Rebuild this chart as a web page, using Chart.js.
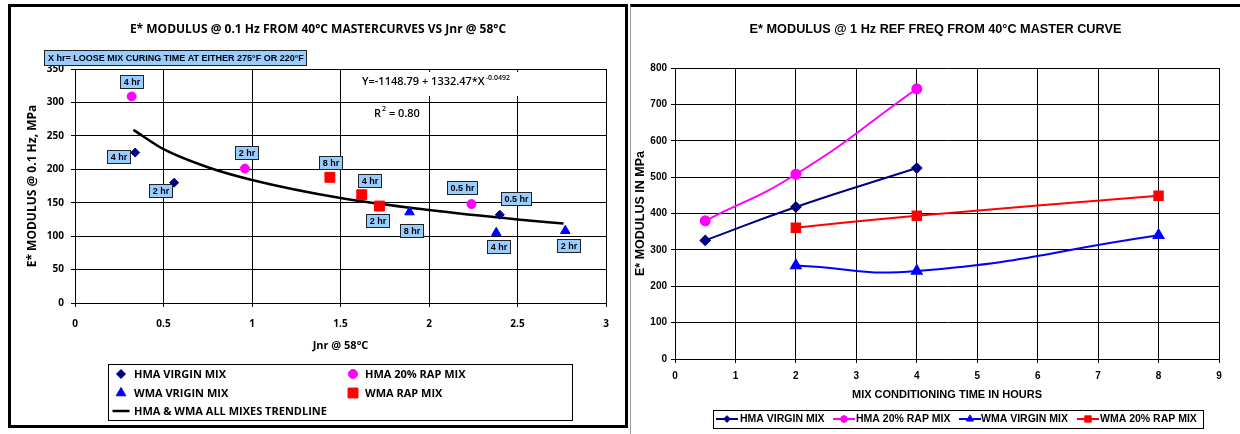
<!DOCTYPE html>
<html>
<head>
<meta charset="utf-8">
<script src="https://cdn.jsdelivr.net/npm/chart.js@4"></script>
<style>
body { margin: 0; width: 1240px; height: 434px; background: #fff; position: relative; overflow: hidden; }
#leftBox { position: absolute; left: 8px; top: 4px; width: 620px; height: 424px; border: 3px solid #000; box-sizing: border-box; }
#rightBox { position: absolute; left: 630px; top: 4px; width: 610px; height: 430px; border-top: 3px solid #000; border-left: 1px solid #999; box-sizing: border-box; }
canvas { display: block; }
</style>
</head>
<body>
<div id="leftBox"><canvas id="leftChart" width="614" height="418"></canvas></div>
<div id="rightBox"><canvas id="rightChart" width="609" height="427"></canvas></div>
<script>
// ---- left chart data: E* @ 0.1 Hz vs Jnr @ 58C
const hmaVirginJnr = [0.34, 0.56, 2.40];
const hmaVirginE = [225, 180, 132];
const hmaVirginHrs = ['4 hr', '2 hr', '0.5 hr'];
const hmaRapJnr = [0.32, 0.96, 2.24];
const hmaRapE = [309, 201, 148];
const hmaRapHrs = ['4 hr', '2 hr', '0.5 hr'];
const wmaVirginJnr = [1.89, 2.38, 2.77];
const wmaVirginE = [136, 105, 108];
const wmaVirginHrs = ['8 hr', '4 hr', '2 hr'];
const wmaRapJnr = [1.44, 1.62, 1.72];
const wmaRapE = [188, 162, 145];
const wmaRapHrs = ['8 hr', '4 hr', '2 hr'];
const trendJnr = [0.33, 0.5, 0.75, 1, 1.5, 2, 2.5, 2.76];
const trendE = [259, 230, 203, 184, 157, 139, 125, 119];
const jnrTicks = [0, 0.5, 1, 1.5, 2, 2.5, 3];
const modulusTicks = [0, 50, 100, 150, 200, 250, 300, 350];

// ---- right chart data: E* @ 1 Hz vs conditioning time
const hmaVirginHours = [0.5, 2, 4];
const hmaVirginMod = [326, 418, 525];
const hmaRapHours = [0.5, 2, 4];
const hmaRapMod = [380, 508, 743];
const wmaVirginHours = [2, 4, 8];
const wmaVirginMod = [257, 242, 340];
const wmaRapHours = [2, 4, 8];
const wmaRapMod = [361, 394, 449];
const hourTicks = [0, 1, 2, 3, 4, 5, 6, 7, 8, 9];
const mpaTicks = [0, 100, 200, 300, 400, 500, 600, 700, 800];

const pts = (xs, ys) => xs.map((x, i) => ({ x: x, y: ys[i] }));

const openSans = "'Open Sans', sans-serif";
const arial = "'Liberation Sans', Arial, sans-serif";

// label box offsets from their point (layout only)
const hrLabelSets = [hmaVirginHrs, hmaRapHrs, wmaVirginHrs, wmaRapHrs];
const labelNudges = [
    [[-17, 4], [-14, 8], [16, -16]],
    [[0, -15], [1, -16], [-9, -17]],
    [[2, 18], [2, 14], [3, 15]],
    [[0, -15], [8, -14], [-2, 14]]
];

function blueBox(ctx, x, y, w, h) {
    x = Math.round(x) + 0.5; y = Math.round(y) + 0.5;
    ctx.fillStyle = '#99CCFF';
    ctx.fillRect(x, y, Math.round(w), h);
    ctx.strokeStyle = '#222';
    ctx.lineWidth = 1;
    ctx.strokeRect(x, y, Math.round(w), h);
}

function drawBoxLegend(chart, box, slots, cfg) {
    const ctx = chart.ctx;
    ctx.save();
    ctx.strokeStyle = '#000';
    ctx.lineWidth = 1;
    ctx.strokeRect(box[0] + 0.5, box[1] + 0.5, box[2], box[3]);
    ctx.font = cfg.font;
    ctx.textBaseline = 'middle';
    ctx.textAlign = 'left';
    chart.data.datasets.forEach((ds, i) => {
        const [mx, tx, y] = slots[i];
        if (ds.showLine) {
            ctx.strokeStyle = ds.borderColor;
            ctx.lineWidth = cfg.lineWidth;
            ctx.beginPath();
            ctx.moveTo(mx - cfg.lineLen / 2, y);
            ctx.lineTo(mx + cfg.lineLen / 2, y);
            ctx.stroke();
        }
        if (ds.pointRadius > 0) {
            ctx.fillStyle = ds.backgroundColor;
            ctx.strokeStyle = ds.backgroundColor;
            ctx.lineWidth = 1;
            Chart.helpers.drawPoint(ctx, {
                pointStyle: ds.pointStyle,
                radius: cfg.markerScale * ds.pointRadius,
                rotation: 0,
                borderWidth: 1
            }, mx, y);
        }
        ctx.fillStyle = '#000';
        ctx.fillText(ds.label, tx, y + 0.5);
    });
    ctx.restore();
}

const leftNotes = {
    id: 'leftNotes',
    afterDatasetsDraw(chart) {
        const ctx = chart.ctx;
        ctx.save();
        ctx.font = 'bold 9px ' + arial;
        ctx.textAlign = 'center';
        ctx.textBaseline = 'middle';
        hrLabelSets.forEach((labels, di) => {
            const meta = chart.getDatasetMeta(di);
            labels.forEach((txt, j) => {
                const pt = meta.data[j];
                const [dx, dy] = labelNudges[di][j];
                const w = ctx.measureText(txt).width + 6;
                const h = 13;
                const left = Math.round(pt.x + dx - w / 2);
                const top = Math.round(pt.y + dy - h / 2);
                blueBox(ctx, left, top, w, h);
                ctx.fillStyle = '#000';
                ctx.fillText(txt, left + 0.5 + Math.round(w) / 2, top + h / 2 + 1);
            });
        });

        // curing time note
        const note = 'X hr= LOOSE MIX CURING TIME AT EITHER 275°F OR 220°F';
        ctx.textAlign = 'left';
        const nw = ctx.measureText(note).width + 6;
        blueBox(ctx, 33, 43, nw, 15);
        ctx.fillStyle = '#000';
        ctx.fillText(note, 37, 51.5);

        // trendline equation
        ctx.fillStyle = '#fff';
        ctx.fillRect(349, 65, 164, 24);
        ctx.fillStyle = '#000';
        ctx.textBaseline = 'alphabetic';
        ctx.font = '600 11px ' + openSans;
        const eq = 'Y=-1148.79 + 1332.47*X';
        ctx.fillText(eq, 351, 78);
        const ew = ctx.measureText(eq).width;
        ctx.font = '600 7px ' + openSans;
        ctx.fillText('-0.0492', 351 + ew + 1, 73);
        ctx.font = '600 11px ' + openSans;
        ctx.fillText('R', 363, 110);
        const rw = ctx.measureText('R').width;
        ctx.font = '600 7px ' + openSans;
        ctx.fillText('2', 363 + rw + 1, 104);
        ctx.font = '600 11px ' + openSans;
        ctx.fillText(' = 0.80', 363 + rw + 5, 110);
        ctx.restore();
    },
    afterDraw(chart) {
        drawBoxLegend(chart, [97, 357, 464, 56],
            [[110, 123, 367], [342, 354, 367], [110, 123, 386], [342, 354, 386], [110, 123, 404]],
            { font: 'bold 11px ' + openSans, lineWidth: 2.5, lineLen: 17, markerScale: 1 });
    }
};

const rightLegend = {
    id: 'rightLegend',
    afterDraw(chart) {
        drawBoxLegend(chart, [82, 403, 490, 18],
            [[96, 109, 412], [213, 225, 412], [339, 350, 412], [457, 469, 412]],
            { font: 'bold 10.5px ' + arial, lineWidth: 2, lineLen: 22, markerScale: 0.75 });
    }
};

function axisStyle(family, tickPad, tickVals, titleText, titleSize, titlePad, fitSize, isX) {
    return {
        type: 'linear',
        min: tickVals[0],
        max: tickVals[tickVals.length - 1],
        afterBuildTicks: s => { s.ticks = tickVals.map(v => ({ value: v })); },
        afterFit: s => { if (isX) s.height = fitSize; else s.width = fitSize; },
        grid: { color: '#000', lineWidth: 1, tickLength: 4 },
        border: { color: '#000', width: 1 },
        ticks: {
            padding: tickPad, color: '#000', maxRotation: 0, autoSkip: false,
            font: { family: family, size: 10, weight: 'bold' },
            callback: v => String(v)
        },
        title: {
            display: true, text: titleText, color: '#000',
            font: { family: family, size: titleSize, weight: 'bold' },
            padding: titlePad
        }
    };
}

// empty right-hand gutter, keeps the plot where it is while the title centres on the whole panel
function gutter(w) {
    return {
        position: 'right', display: true,
        grid: { display: false, drawTicks: false },
        border: { display: false },
        ticks: { display: false },
        afterFit: s => { s.width = w; }
    };
}

new Chart(document.getElementById('leftChart'), {
    type: 'scatter',
    data: {
        datasets: [
            { label: 'HMA VIRGIN MIX', data: pts(hmaVirginJnr, hmaVirginE), pointStyle: 'rectRot', pointRadius: 4.5,
              backgroundColor: '#000080', borderColor: '#000080', showLine: false },
            { label: 'HMA 20% RAP MIX', data: pts(hmaRapJnr, hmaRapE), pointStyle: 'circle', pointRadius: 4.5,
              backgroundColor: '#FF00FF', borderColor: '#FF00FF', showLine: false },
            { label: 'WMA VRIGIN MIX', data: pts(wmaVirginJnr, wmaVirginE), pointStyle: 'triangle', pointRadius: 5.5,
              backgroundColor: '#0000FF', borderColor: '#0000FF', showLine: false },
            { label: 'WMA RAP MIX', data: pts(wmaRapJnr, wmaRapE), pointStyle: 'rect', pointRadius: 7,
              backgroundColor: '#FF0000', borderColor: '#FF0000', showLine: false },
            { label: 'HMA & WMA ALL MIXES TRENDLINE', data: pts(trendJnr, trendE), pointRadius: 0,
              borderColor: '#000', backgroundColor: '#000', borderWidth: 2.5, showLine: true,
              cubicInterpolationMode: 'monotone' }
        ]
    },
    options: {
        responsive: false,
        animation: false,
        layout: { padding: { left: 0, right: 0, top: 0, bottom: 70 } },
        plugins: {
            legend: { display: false },
            tooltip: { enabled: false },
            title: {
                display: true, color: '#000',
                text: 'E* MODULUS @ 0.1 Hz FROM 40°C MASTERCURVES VS Jnr @ 58°C',
                font: { family: openSans, size: 12, weight: 'bold' },
                padding: { top: 15.8, bottom: 31.8 }
            }
        },
        scales: {
            x: axisStyle(openSans, 11, jnrTicks, 'Jnr @ 58°C', 11, { top: 0, bottom: 2.4 }, 52, true),
            y: axisStyle(openSans, 7, modulusTicks, 'E* MODULUS @ 0.1 Hz, MPa', 12, { top: 14.8, bottom: 0 }, 64, false),
            gutter: gutter(19)
        }
    },
    plugins: [leftNotes]
});

function lineSet(label, xs, ys, color, style, radius) {
    return {
        label: label, data: pts(xs, ys), borderColor: color, backgroundColor: color,
        pointBackgroundColor: color, pointBorderColor: color, pointStyle: style, pointRadius: radius,
        borderWidth: 2, tension: 0.5, showLine: true
    };
}

new Chart(document.getElementById('rightChart'), {
    type: 'line',
    data: {
        datasets: [
            lineSet('HMA VIRGIN MIX', hmaVirginHours, hmaVirginMod, '#000080', 'rectRot', 4.5),
            lineSet('HMA 20% RAP MIX', hmaRapHours, hmaRapMod, '#FF00FF', 'circle', 4.5),
            lineSet('WMA VIRGIN MIX', wmaVirginHours, wmaVirginMod, '#0000FF', 'triangle', 5.5),
            lineSet('WMA 20% RAP MIX', wmaRapHours, wmaRapMod, '#FF0000', 'rect', 6)
        ]
    },
    options: {
        responsive: false,
        animation: false,
        layout: { padding: { left: 0, right: 0, top: 0, bottom: 31 } },
        plugins: {
            legend: { display: false },
            tooltip: { enabled: false },
            title: {
                display: true, color: '#000',
                text: 'E* MODULUS @ 1 Hz REF FREQ FROM 40°C MASTER CURVE',
                font: { family: arial, size: 12.7, weight: 'bold' },
                padding: { top: 14.4, bottom: 31.4 }
            }
        },
        scales: {
            x: axisStyle(arial, 7, hourTicks, 'MIX CONDITIONING TIME IN HOURS', 11, { top: 0, bottom: 1 }, 44, true),
            y: axisStyle(arial, 4, mpaTicks, 'E* MODULUS IN MPa', 12.5, { top: 2.5, bottom: 0 }, 44, false),
            gutter: gutter(21)
        }
    },
    plugins: [rightLegend]
});
</script>
</body>
</html>
